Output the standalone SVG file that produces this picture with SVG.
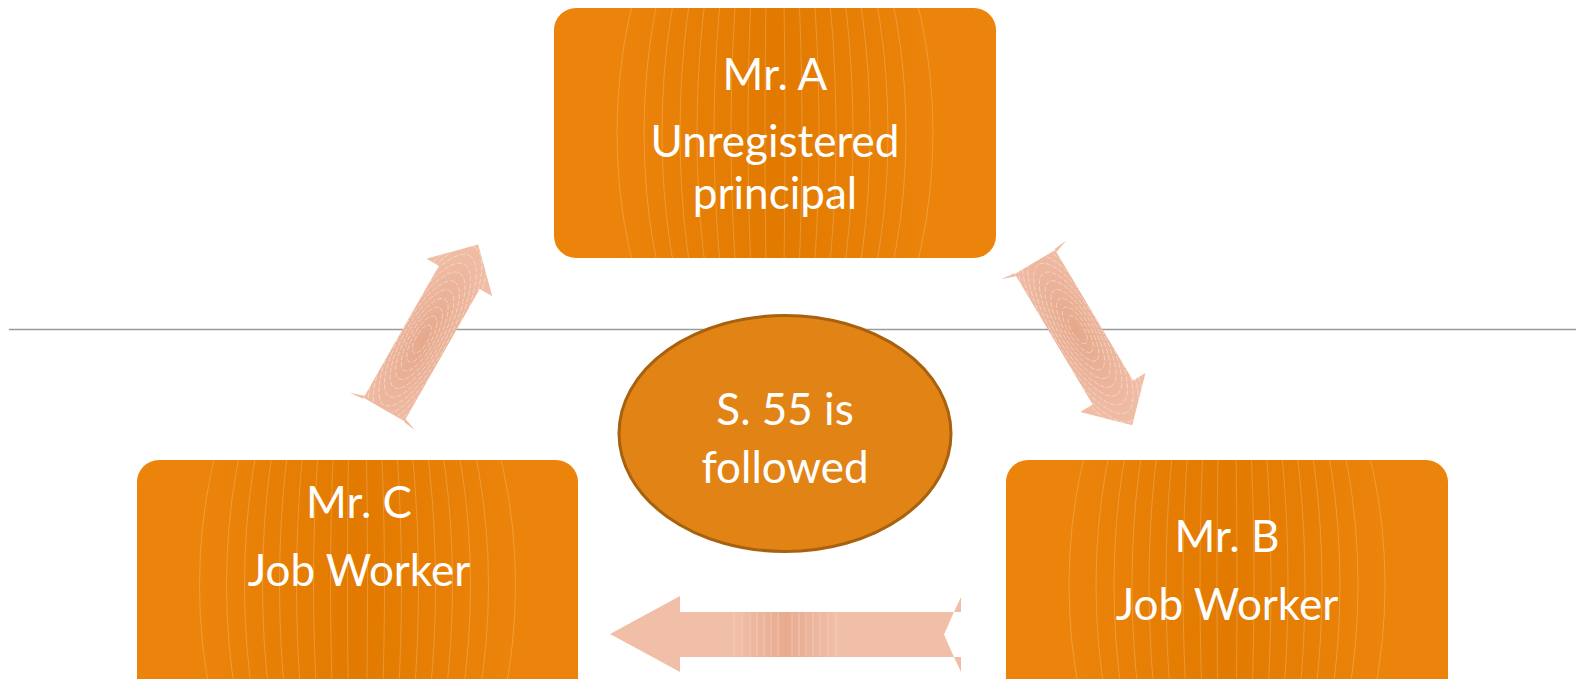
<svg xmlns="http://www.w3.org/2000/svg" width="1576" height="679" viewBox="0 0 1576 679">
  <style>
    .box { fill: url(#boxGrad); }
    .rings ellipse { fill: none; stroke: #ffffff; stroke-opacity: 0.25; stroke-width: 0.8; }
    .arings ellipse { fill: none; stroke: #ffffff; stroke-opacity: 0.45; stroke-width: 0.8; stroke-dasharray: 5 2; }
    .lbl { font-family: Lato, "Liberation Sans", sans-serif; font-size: 44px; fill: #ffffff; text-anchor: middle; }
    .arrow { fill: url(#arrowGrad); }
    .sliver { fill: #F0BEA6; }
  </style>
  <defs>
    <linearGradient id="boxGrad" x1="0" y1="0" x2="1" y2="0">
      <stop offset="0" stop-color="#EC840B"/>
      <stop offset="0.15" stop-color="#EC840B"/>
      <stop offset="0.5" stop-color="#E27A00"/>
      <stop offset="0.85" stop-color="#EC840B"/>
      <stop offset="1" stop-color="#EC840B"/>
    </linearGradient>
    <radialGradient id="arrowGrad" cx="80" cy="0" r="110" gradientUnits="userSpaceOnUse" gradientTransform="translate(80 0) scale(1 0.35) translate(-80 0)">
      <stop offset="0" stop-color="#E6A88B"/>
      <stop offset="1" stop-color="#F0BEA6"/>
    </radialGradient>
    <linearGradient id="hArrowGrad" x1="610" y1="0" x2="962" y2="0" gradientUnits="userSpaceOnUse">
      <stop offset="0" stop-color="#F1BFA8"/>
      <stop offset="0.35" stop-color="#F1BFA8"/>
      <stop offset="0.5" stop-color="#E8AB8F"/>
      <stop offset="0.65" stop-color="#F1BFA8"/>
      <stop offset="1" stop-color="#F1BFA8"/>
    </linearGradient>
    <g id="boxRings" class="rings">
      <ellipse cx="0" cy="0" rx="10" ry="300"/>
      <ellipse cx="0" cy="0" rx="27" ry="300"/>
      <ellipse cx="0" cy="0" rx="44" ry="300"/>
      <ellipse cx="0" cy="0" rx="61" ry="300"/>
      <ellipse cx="0" cy="0" rx="78" ry="300"/>
      <ellipse cx="0" cy="0" rx="95" ry="300"/>
      <ellipse cx="0" cy="0" rx="113" ry="300"/>
      <ellipse cx="0" cy="0" rx="131" ry="300"/>
      <ellipse cx="0" cy="0" rx="158" ry="300"/>
    </g>
    <g id="arrowRings" class="arings">
      <ellipse cx="80" cy="-2" rx="16" ry="6"/>
      <ellipse cx="80" cy="-2" rx="26" ry="9"/>
      <ellipse cx="80" cy="-2" rx="36" ry="12"/>
      <ellipse cx="80" cy="-2" rx="46" ry="15"/>
      <ellipse cx="80" cy="-2" rx="56" ry="18"/>
      <ellipse cx="80" cy="-2" rx="66" ry="21"/>
      <ellipse cx="80" cy="-2" rx="76" ry="24"/>
      <ellipse cx="80" cy="-2" rx="86" ry="27"/>
      <ellipse cx="80" cy="-2" rx="96" ry="30"/>
      <ellipse cx="80" cy="-2" rx="106" ry="33"/>
      <ellipse cx="80" cy="-2" rx="116" ry="36"/>
    </g>
    <clipPath id="clipA"><rect x="554" y="8" width="442" height="250" rx="22"/></clipPath>
    <clipPath id="clipB"><rect x="1006" y="460" width="442" height="250" rx="22"/></clipPath>
    <clipPath id="clipC"><rect x="137" y="460" width="441" height="250" rx="22"/></clipPath>
    <clipPath id="clipArrow"><polygon points="0,-23.5 152,-23.5 152,-38 190,0 152,38 152,23.5 0,23.5"/></clipPath>
  </defs>

  <rect x="0" y="0" width="1576" height="679" fill="#ffffff"/>

  <line x1="9" y1="329.5" x2="1576" y2="329.5" stroke="#9A9A9A" stroke-width="1.6"/>

  <g id="connectors">
    <g id="arrowCA" transform="translate(384 409.5) rotate(-60.3)">
      <polygon class="arrow" points="0,-23.5 152,-23.5 152,-38 190,0 152,38 152,23.5 0,23.5"/>
      <g clip-path="url(#clipArrow)"><use href="#arrowRings"/></g>
      <polygon class="sliver" points="-1,-23.5 -2.5,-38 2.5,-23.5"/>
      <polygon class="sliver" points="-1,23.5 -2.5,37 2.5,23.5"/>
    </g>
    <g id="arrowAB" transform="translate(1035 262) rotate(59.2)">
      <polygon class="arrow" points="0,-23.5 152,-23.5 152,-38 190,0 152,38 152,23.5 0,23.5"/>
      <g clip-path="url(#clipArrow)"><use href="#arrowRings"/></g>
      <polygon class="sliver" points="-1,-23.5 -2.5,-38 2.5,-23.5"/>
      <polygon class="sliver" points="-1,23.5 -2.5,38 2.5,23.5"/>
    </g>
    <g id="arrowBC">
      <polygon fill="url(#hArrowGrad)" points="610,634 680,596 680,612 954,612 944,634.5 954,657 680,657 680,672"/>
      <g stroke="#ffffff" stroke-opacity="0.35" stroke-width="0.8">
        <line x1="734" y1="613" x2="734" y2="656"/>
        <line x1="742" y1="613" x2="742" y2="656"/>
        <line x1="750" y1="613" x2="750" y2="656"/>
        <line x1="757" y1="613" x2="757" y2="656"/>
        <line x1="764" y1="613" x2="764" y2="656"/>
        <line x1="771" y1="613" x2="771" y2="656"/>
        <line x1="778" y1="613" x2="778" y2="656"/>
        <line x1="792" y1="613" x2="792" y2="656"/>
        <line x1="799" y1="613" x2="799" y2="656"/>
        <line x1="806" y1="613" x2="806" y2="656"/>
        <line x1="813" y1="613" x2="813" y2="656"/>
        <line x1="820" y1="613" x2="820" y2="656"/>
        <line x1="828" y1="613" x2="828" y2="656"/>
        <line x1="836" y1="613" x2="836" y2="656"/>
      </g>
      <polygon class="sliver" points="954,612 961,597 961,612"/>
      <polygon class="sliver" points="954,657 961,657 961,672"/>
    </g>
  </g>

  <g id="nodeA">
    <rect class="box" x="554" y="8" width="442" height="250" rx="22"/>
    <g clip-path="url(#clipA)"><use href="#boxRings" transform="translate(775 133)"/></g>
    <text class="lbl" x="775" y="90">Mr. A</text>
    <text class="lbl" x="775" y="157">Unregistered</text>
    <text class="lbl" x="775" y="209">principal</text>
  </g>

  <g id="nodeB">
    <rect class="box" x="1006" y="460" width="442" height="250" rx="22"/>
    <g clip-path="url(#clipB)"><use href="#boxRings" transform="translate(1227 585)"/></g>
    <text class="lbl" x="1227" y="552">Mr. B</text>
    <text class="lbl" x="1227" y="620">Job Worker</text>
  </g>

  <g id="nodeC">
    <rect class="box" x="137" y="460" width="441" height="250" rx="22"/>
    <g clip-path="url(#clipC)"><use href="#boxRings" transform="translate(357.5 585)"/></g>
    <text class="lbl" x="359" y="518">Mr. C</text>
    <text class="lbl" x="359" y="586">Job Worker</text>
  </g>

  <g id="nodeCenter">
    <ellipse cx="785" cy="433.5" rx="166" ry="118" fill="#E28415" stroke="#A8620F" stroke-width="3"/>
    <text class="lbl" x="785" y="425">S. 55 is</text>
    <text class="lbl" x="785" y="483">followed</text>
  </g>
</svg>
